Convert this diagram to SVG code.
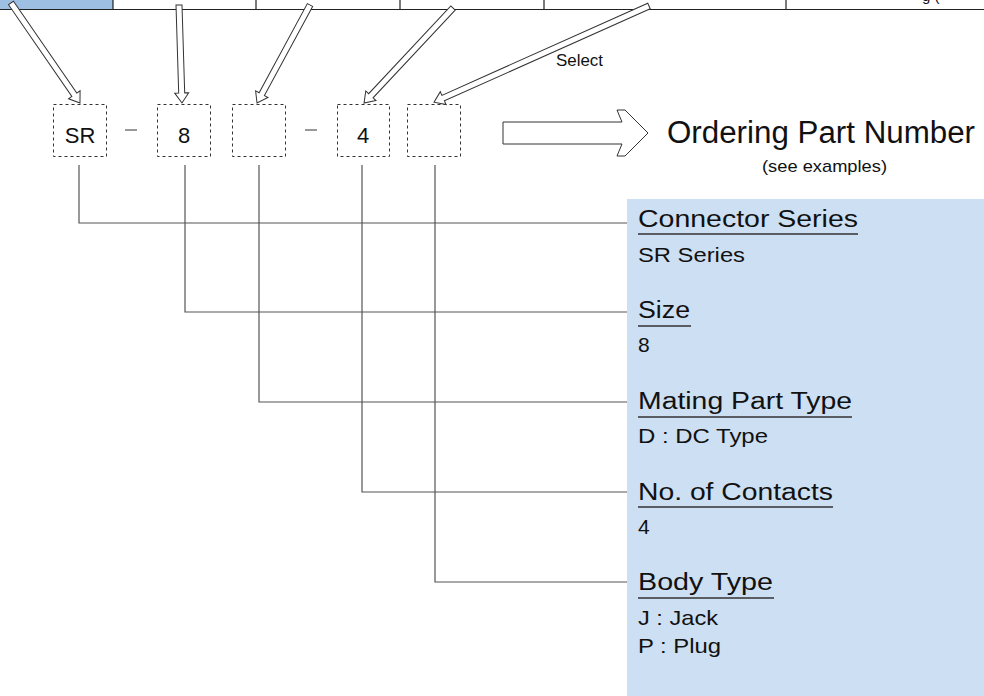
<svg xmlns="http://www.w3.org/2000/svg" width="984" height="696" viewBox="0 0 984 696">
<style>
  text { font-family: "Liberation Sans", Arial, sans-serif; fill: #111; }
  .hd { font-size: 23px; }
  .val { font-size: 21px; }
  .box { fill: none; stroke: #333; stroke-width: 1; stroke-dasharray: 3 3; }
  .hollow { fill: #fff; stroke: #333; stroke-width: 1; }
  .conn { fill: none; stroke: #555; stroke-width: 1.2; }
  .ul { stroke: #333; stroke-width: 1.3; }
  .grid { stroke: #222; stroke-width: 1.2; }
</style>

<g id="header-strip">
  <rect x="0" y="0" width="113" height="9.5" fill="#9dbfe1"/>
  <line class="grid" x1="113" y1="0" x2="113" y2="9.5"/>
  <line class="grid" x1="256" y1="0" x2="256" y2="9.5"/>
  <line class="grid" x1="400" y1="0" x2="400" y2="9.5"/>
  <line class="grid" x1="544" y1="0" x2="544" y2="9.5"/>
  <line class="grid" x1="786" y1="0" x2="786" y2="9.5"/>
  <line class="grid" x1="0" y1="9.5" x2="984" y2="9.5"/>
  <text x="922" y="1" style="font-size:15px">g (</text>
</g>

<g id="panel">
  <rect x="627" y="199" width="357" height="500" fill="#cddff2"/>
</g>

<g id="connectors">
  <polyline class="conn" points="79,165 79,223 627,223"/>
  <polyline class="conn" points="185,165 185,312 627,312"/>
  <polyline class="conn" points="259,165 259,402 627,402"/>
  <polyline class="conn" points="362,165 362,492 627,492"/>
  <polyline class="conn" points="435,165 435,582 627,582"/>
</g>

<g id="select-arrows">
  <polygon class="hollow" transform="translate(11,3) rotate(55.4)" points="0,-3 111.5,-3 111.5,-7 121.5,0 111.5,7 111.5,3 0,3"/>
  <polygon class="hollow" transform="translate(179,5) rotate(88.25)" points="0,-3 88,-3 88,-7 98,0 88,7 88,3 0,3"/>
  <polygon class="hollow" transform="translate(310,5) rotate(118.4)" points="0,-3 101.4,-3 101.4,-7 111.4,0 101.4,7 101.4,3 0,3"/>
  <polygon class="hollow" transform="translate(453,8) rotate(133.1)" points="0,-3 120.2,-3 120.2,-7 130.2,0 120.2,7 120.2,3 0,3"/>
  <polygon class="hollow" transform="translate(649,6) rotate(155.9)" points="0,-3 225.5,-3 225.5,-7 235.5,0 225.5,7 225.5,3 0,3"/>
  <text x="556" y="66" style="font-size:17px" textLength="47" lengthAdjust="spacingAndGlyphs">Select</text>
</g>

<g id="box-series">
  <rect class="box" x="53.5" y="104.5" width="53" height="52"/>
  <text x="80" y="143" text-anchor="middle" style="font-size:22px">SR</text>
</g>
<line x1="125" y1="130" x2="137" y2="130" stroke="#333" stroke-width="1"/>
<g id="box-size">
  <rect class="box" x="157.5" y="104.5" width="53" height="52"/>
  <text x="184" y="143" text-anchor="middle" style="font-size:22px">8</text>
</g>
<g id="box-mating">
  <rect class="box" x="232.5" y="104.5" width="53" height="52"/>
</g>
<line x1="305" y1="130" x2="317" y2="130" stroke="#333" stroke-width="1"/>
<g id="box-contacts">
  <rect class="box" x="337.5" y="104.5" width="52" height="52"/>
  <text x="363" y="143" text-anchor="middle" style="font-size:22px">4</text>
</g>
<g id="box-body">
  <rect class="box" x="407.5" y="104.5" width="53" height="52"/>
</g>

<g id="result-arrow">
  <polygon class="hollow" points="503,122 622,122 617,110 625,110 648,133 625,156 617,156 622,144 503,144"/>
</g>

<g id="ordering-title">
  <text x="667" y="143" style="font-size:31px" textLength="308" lengthAdjust="spacingAndGlyphs">Ordering Part Number</text>
  <text x="762" y="172" style="font-size:17px" textLength="125" lengthAdjust="spacingAndGlyphs">(see examples)</text>
</g>

<g id="connector-series">
  <text class="hd" x="638" y="227" textLength="220" lengthAdjust="spacingAndGlyphs">Connector Series</text>
  <line class="ul" x1="638" y1="234" x2="858" y2="234"/>
  <text class="val" x="638" y="262" textLength="107" lengthAdjust="spacingAndGlyphs">SR Series</text>
</g>

<g id="size">
  <text class="hd" x="638" y="318" textLength="52" lengthAdjust="spacingAndGlyphs">Size</text>
  <line class="ul" x1="638" y1="326" x2="691" y2="326"/>
  <text class="val" x="638" y="352">8</text>
</g>

<g id="mating-part-type">
  <text class="hd" x="638" y="409" textLength="214" lengthAdjust="spacingAndGlyphs">Mating Part Type</text>
  <line class="ul" x1="638" y1="417" x2="852" y2="417"/>
  <text class="val" x="638" y="443" textLength="130" lengthAdjust="spacingAndGlyphs">D : DC Type</text>
</g>

<g id="no-of-contacts">
  <text class="hd" x="638" y="500" textLength="195" lengthAdjust="spacingAndGlyphs">No. of Contacts</text>
  <line class="ul" x1="638" y1="507" x2="833" y2="507"/>
  <text class="val" x="638" y="534">4</text>
</g>

<g id="body-type">
  <text class="hd" x="638" y="590" textLength="135" lengthAdjust="spacingAndGlyphs">Body Type</text>
  <line class="ul" x1="638" y1="598" x2="774" y2="598"/>
  <text class="val" x="638" y="625" textLength="80" lengthAdjust="spacingAndGlyphs">J : Jack</text>
  <text class="val" x="638" y="653" textLength="83" lengthAdjust="spacingAndGlyphs">P : Plug</text>
</g>
</svg>
